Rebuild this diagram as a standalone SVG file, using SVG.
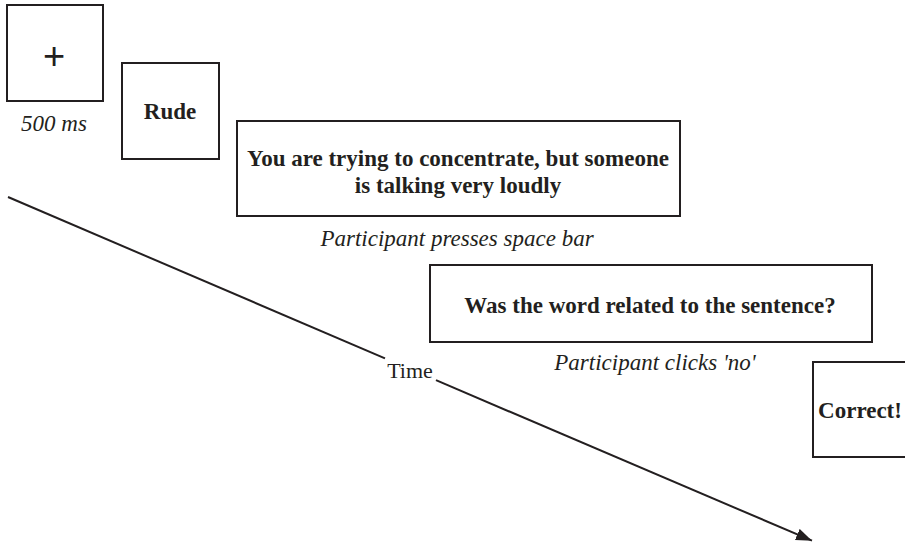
<svg xmlns="http://www.w3.org/2000/svg" width="905" height="546" viewBox="0 0 905 546">
  <style>
    .box { fill: #ffffff; stroke: #231f20; stroke-width: 2; }
    .bold { font-family: "Liberation Serif", "Times New Roman", serif; font-weight: bold; font-size: 23px; fill: #231f20; text-anchor: middle; }
    .note { font-family: "Liberation Serif", "Times New Roman", serif; font-style: italic; font-size: 23px; fill: #231f20; text-anchor: middle; }
    .plain { font-family: "Liberation Serif", "Times New Roman", serif; font-size: 22px; fill: #231f20; text-anchor: middle; }
    .axis { fill: none; stroke: #231f20; stroke-width: 2; }
  </style>
  <defs>
    <marker id="arrow" markerUnits="userSpaceOnUse" markerWidth="18" markerHeight="14" refX="16" refY="6" orient="auto">
      <path d="M0,0 L16,6 L0,12 Z" fill="#231f20"/>
    </marker>
  </defs>
  <rect width="905" height="546" fill="#ffffff"/>

  <!-- time axis, broken by its label -->
  <g id="connectors">
    <line class="axis" x1="8" y1="197" x2="385" y2="358.4"/>
    <line class="axis" x1="436" y1="380.2" x2="812" y2="540.7" marker-end="url(#arrow)"/>
    <text class="plain" x="410" y="378">Time</text>
  </g>

  <g id="fixation">
    <rect class="box" x="7" y="5" width="96" height="96"/>
    <text x="54" y="69" font-family="Liberation Sans, Arial, sans-serif" font-size="38" fill="#231f20" text-anchor="middle">+</text>
    <text class="note" x="54" y="131">500 ms</text>
  </g>

  <g id="word">
    <rect class="box" x="122" y="63" width="97" height="96"/>
    <text class="bold" x="170" y="119">Rude</text>
  </g>

  <g id="sentence">
    <rect class="box" x="237" y="121" width="443" height="95"/>
    <text class="bold" x="458" y="166">You are trying to concentrate, but someone</text>
    <text class="bold" x="458" y="193">is talking very loudly</text>
    <text class="note" x="457" y="246">Participant presses space bar</text>
  </g>

  <g id="question">
    <rect class="box" x="430" y="265" width="442" height="77"/>
    <text class="bold" x="650" y="313">Was the word related to the sentence?</text>
    <text class="note" x="655" y="370">Participant clicks 'no'</text>
  </g>

  <g id="feedback">
    <rect class="box" x="813" y="362" width="97" height="95"/>
    <text class="bold" x="860" y="418">Correct!</text>
  </g>
</svg>
